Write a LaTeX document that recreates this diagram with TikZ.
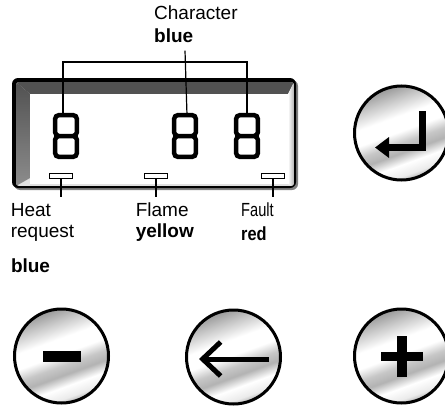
\documentclass[tikz,border=0pt]{standalone}
\usepackage{fontspec}
\setmainfont{Liberation Sans}
\newfontfamily\faultfont[FakeStretch=0.77]{Liberation Sans}
\newfontfamily\redfont[FakeStretch=0.86]{Liberation Sans}
\usetikzlibrary{arrows.meta, calc}
\pgfdeclarehorizontalshading{metal}{100bp}{color(0bp)=(black!40); color(25bp)=(black!40);
  color(32bp)=(black!22); color(41bp)=(white); color(49bp)=(white); color(55bp)=(black!22);
  color(60bp)=(black!30); color(66bp)=(white); color(72bp)=(black!8); color(75bp)=(black!30);
  color(100bp)=(black!30)}
\begin{document}
\begin{tikzpicture}[x=1pt, y=-1pt,
  btn/.style={circle, draw, line width=3pt, minimum size=94pt, inner sep=0pt,
  shade, shading=metal, shading angle=-70},
  digit/.style={minimum width=21.5pt, minimum height=41.5pt, inner sep=0pt},
  seg/.style={line width=4.5pt, rounded corners=4pt},
  ind/.style={draw, line width=1.2pt, fill=white, minimum width=23pt,
  minimum height=5.5pt, inner sep=0pt},
  lbl/.style={inner sep=0pt, anchor=north west, align=left, font=\fontsize{19}{21}\selectfont},
  lead/.style={line width=1.2pt}
]
\useasboundingbox (0,0) rectangle (445,407);
% display frame
\fill[black!50, rounded corners=6pt] (14,80) rectangle (298,190);
\fill[black, rounded corners=6pt] (12,78) rectangle (296,188);
\begin{scope}
\clip[rounded corners=3pt] (16,82) rectangle (294,186);
\fill[black!12] (16,82) rectangle (294,186);
\fill[black!68] (16,82) -- (294,82) -- (288,94) -- (30,94) -- cycle;
\shade[top color=black!68, bottom color=black!45] (16,82) -- (30,94) -- (30,178) -- (16,186) -- cycle;
\shade[left color=white, right color=black!30] (294,82) -- (288,94) -- (288,184) -- (294,186) -- cycle;
\fill[white] (30,94) rectangle (288,184);
\end{scope}
% digits
\node[digit] (d1) at (66,136) {};
\node[digit] (d2) at (185,136) {};
\node[digit] (d3) at (247,136) {};
\foreach \d in {d1,d2,d3}
  \draw[seg] (\d.north west) rectangle (\d.east) (\d.west) rectangle (\d.south east);
% indicators
\node[ind] (ind1) at (61,176) {};
\node[ind] (ind2) at (156,176) {};
\node[ind] (ind3) at (273,176) {};
% labels
\node[lbl, font=\fontsize{19}{22.7}\selectfont] (charlbl) at (154,5.5) {Character\\\textbf{blue}};
\node[lbl] (heat) at (10.6,203) {Heat\\request};
\node[lbl] (heatcol) at (10.8,258.5) {\textbf{blue}};
\node[lbl] (flame) at (135.6,203) {Flame\\\textbf{yellow}};
\node[lbl, font=\fontsize{19}{24}\selectfont] (fault) at (241,203) {{\faultfont Fault}\\{\redfont\bfseries red}};
% leader lines
\coordinate (bar) at (155,62);
\draw[lead] ([yshift=-8pt]charlbl.south -| d2.north) -- ([xshift=2pt]d2.north);
\draw[lead] ([xshift=-3pt]d1.north) |- (bar) -| (d3.north);
\draw[lead] (ind1.south) -- ([yshift=6pt]ind1.south |- heat.north);
\draw[lead] (ind2.south) -- ([yshift=6pt]ind2.south |- flame.north);
\draw[lead] (ind3.south) -- ([yshift=6pt]ind3.south |- fault.north);
% buttons
\node[btn] (enter) at (401.5,133) {};
\node[btn] (minus) at (61.5,356) {};
\node[btn] (back) at (233.5,357) {};
\node[btn] (plus) at (401.5,356) {};
\draw[line width=7pt, -{Triangle[length=14pt, width=20pt]}] ($(enter)+(21,-22)$) |- ($(enter)+(-26.5,14.5)$);
\fill (minus) ++(-19,-5.5) rectangle ++(38,11);
\draw[line width=5pt, -{Straight Barb[length=18pt, width=34pt]}] ($(back)+(35.5,2)$) -- ($(back)+(-34.5,2)$);
\fill (plus) ++(-21,-4.5) rectangle ++(42,9);
\fill (plus) ++(-5,-20.5) rectangle ++(10,41);
\end{tikzpicture}
\end{document}
